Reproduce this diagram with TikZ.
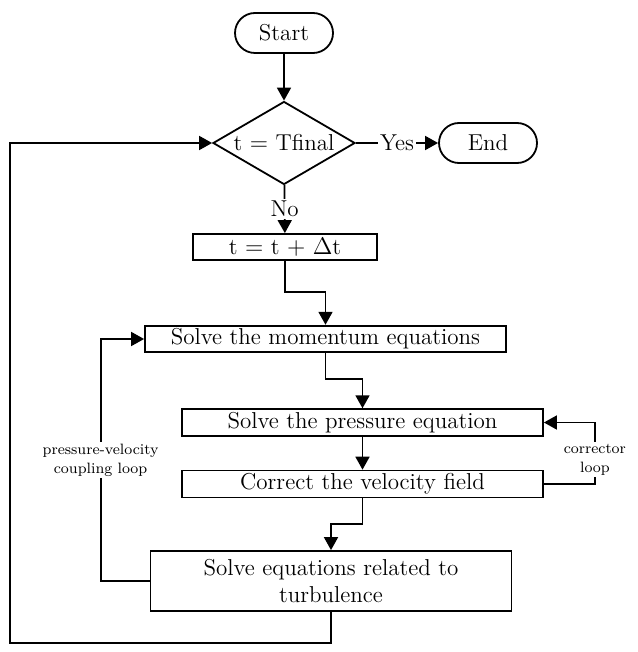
\documentclass[tikz,border=0pt]{standalone}
\usepackage{fontspec}
\usepackage{tikz}
\usetikzlibrary{arrows.meta, shapes.geometric, positioning}

\begin{document}
\begin{tikzpicture}[
  x=0.5pt, y=-0.5pt,
  line width=0.9pt,
  >={Triangle[length=6.5pt,width=7pt]},
  every node/.style={anchor=center},
  terminal/.style={draw, rectangle, rounded corners=10pt, minimum width=49pt,
                   minimum height=20pt, font=\fontsize{11.5}{13.5}\selectfont},
  decision/.style={draw, diamond, aspect=1.7, inner sep=0pt, minimum width=71pt,
                   minimum height=41.5pt, font=\fontsize{11.5}{13.5}\selectfont},
  process/.style={draw, rectangle, minimum width=180.5pt, minimum height=13pt,
                  inner sep=1.5pt, font=\fontsize{11.5}{13.5}\selectfont, align=center},
  lbl/.style={fill=white, inner sep=1pt, font=\fontsize{11.5}{13.5}\selectfont},
  looplbl/.style={fill=white, inner sep=1pt, align=center,
                  font=\fontsize{7.5}{9.5}\selectfont}
]
  \useasboundingbox (0,0) rectangle (637,652);

  \node[terminal] (start) at (284,33)  {Start};
  \node[decision] (check) at (284,143) {t $=$ Tfinal};
  \node[terminal] (stop)  at (488,143) {End};
  \node[process, minimum width=92pt] (tupd) at (285,247) {t $=$ t $+$ $\Delta$t};
  \node[process] (mom)  at (325.5,339)   {Solve the momentum equations};
  \node[process] (pres) at (362.5,422.5) {Solve the pressure equation};
  \node[process] (corr) at (362.5,484)   {Correct the velocity field};
  \node[process, minimum height=30pt] (turb) at (331,581)
       {Solve equations related to\\turbulence};

  % main flow
  \draw[->] (start) -- (check);
  \draw[->] (check) -- node[lbl]{Yes} (stop);
  \draw[->] (check) -- node[lbl]{No} (tupd);
  \draw[->] (tupd.south) -- ++(0,31) -| (mom.north);
  \draw[->] (mom.south) -- ++(0,26) -| (pres.north);
  \draw[->] (pres) -- (corr);
  \draw[->] (corr.south) -- ++(0,26) -| (turb.north);

  % loops
  \draw[->] (corr.east) -- ++(51,0) |- node[looplbl, pos=0.2]{corrector\\loop} (pres.east);
  \draw[->] (turb.west) -- ++(-49,0) |- node[looplbl, pos=0.25]{pressure-velocity\\coupling loop} (mom.west);
  \draw[->] (turb.south) -- ++(0,31) -- ++(-321,0) |- (check.west);
\end{tikzpicture}
\end{document}
